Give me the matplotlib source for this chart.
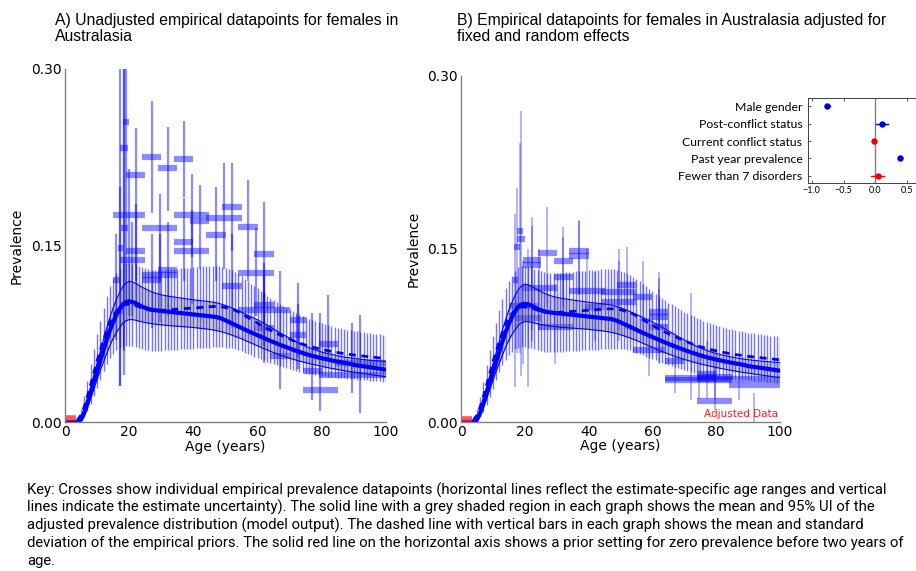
import matplotlib
matplotlib.use("Agg")
import matplotlib.pyplot as plt
from matplotlib import font_manager as fm


def font_file(name):
    try:
        return fm.findfont(fm.FontProperties(family=name), fallback_to_default=False)
    except Exception:
        return ""


KEY_FONT = "Liberation Sans Narrow" if "Narrow" in font_file("Liberation Sans Narrow") else "Roboto"

# ---------------- data ----------------
AGES = list(range(101))

MODEL_MEAN = [
    0, 0, 0, 0, 0, 0.002, 0.008, 0.016, 0.025, 0.034,
    0.043, 0.052, 0.061, 0.070, 0.078, 0.085, 0.091, 0.096, 0.100, 0.102,
    0.1025, 0.102, 0.101, 0.0995, 0.098, 0.097, 0.096, 0.0955, 0.095, 0.0947,
    0.0944, 0.0941, 0.0938, 0.0935, 0.0932, 0.0929, 0.0926, 0.0923, 0.0920, 0.0917,
    0.0914, 0.0911, 0.0908, 0.0905, 0.0902, 0.0899, 0.0896, 0.0893, 0.0886, 0.0876,
    0.0864, 0.0851, 0.0838, 0.0825, 0.0812, 0.0799, 0.0786, 0.0773, 0.0761, 0.0749,
    0.0737, 0.0725, 0.0713, 0.0701, 0.0689, 0.0678, 0.0667, 0.0656, 0.0645, 0.0635,
    0.0625, 0.0615, 0.0605, 0.0596, 0.0587, 0.0578, 0.0570, 0.0562, 0.0555, 0.0548,
    0.0542, 0.0536, 0.0530, 0.0524, 0.0518, 0.0513, 0.0508, 0.0503, 0.0498, 0.0493,
    0.0485, 0.0481, 0.0477, 0.0473, 0.0469, 0.0465, 0.0461, 0.0457, 0.0453, 0.0449, 0.0445]

MODEL_UPPER = [
    0, 0, 0, 0, 0, 0.004, 0.011, 0.020, 0.030, 0.040,
    0.050, 0.060, 0.070, 0.080, 0.089, 0.097, 0.104, 0.110, 0.115, 0.118,
    0.1195, 0.119, 0.1178, 0.1162, 0.1146, 0.1132, 0.1118, 0.1106, 0.1096, 0.1088,
    0.1081, 0.1075, 0.1070, 0.1066, 0.1062, 0.1058, 0.1054, 0.1050, 0.1046, 0.1042,
    0.1038, 0.1035, 0.1032, 0.1029, 0.1026, 0.1023, 0.1019, 0.1014, 0.1007, 0.0999,
    0.0990, 0.0980, 0.0969, 0.0957, 0.0945, 0.0932, 0.0919, 0.0906, 0.0893, 0.0880,
    0.0868, 0.0853, 0.0838, 0.0822, 0.0806, 0.0790, 0.0774, 0.0758, 0.0742, 0.0727,
    0.0712, 0.0697, 0.0682, 0.0668, 0.0655, 0.0643, 0.0632, 0.0621, 0.0611, 0.0602,
    0.0594, 0.0587, 0.0580, 0.0574, 0.0568, 0.0562, 0.0557, 0.0552, 0.0548, 0.0544,
    0.0540, 0.0537, 0.0534, 0.0531, 0.0528, 0.0525, 0.0523, 0.0521, 0.0519, 0.0517, 0.0515]

MODEL_LOWER = [
    0, 0, 0, 0, 0, 0.001, 0.005, 0.012, 0.020, 0.028,
    0.036, 0.044, 0.051, 0.058, 0.065, 0.071, 0.076, 0.080, 0.084, 0.086,
    0.087, 0.087, 0.0865, 0.0858, 0.0851, 0.0845, 0.0840, 0.0836, 0.0832, 0.0829,
    0.0826, 0.0823, 0.0820, 0.0818, 0.0816, 0.0814, 0.0812, 0.0810, 0.0808, 0.0806,
    0.0803, 0.0800, 0.0797, 0.0794, 0.0791, 0.0787, 0.0783, 0.0778, 0.0772, 0.0765,
    0.0757, 0.0748, 0.0738, 0.0728, 0.0718, 0.0707, 0.0695, 0.0683, 0.0671, 0.0659,
    0.0647, 0.0635, 0.0623, 0.0612, 0.0601, 0.0590, 0.0580, 0.0570, 0.0560, 0.0551,
    0.0542, 0.0534, 0.0526, 0.0518, 0.0511, 0.0504, 0.0497, 0.0491, 0.0485, 0.0479,
    0.0473, 0.0467, 0.0461, 0.0456, 0.0451, 0.0446, 0.0441, 0.0436, 0.0432, 0.0428,
    0.0424, 0.0420, 0.0416, 0.0412, 0.0408, 0.0404, 0.0400, 0.0396, 0.0392, 0.0388, 0.0384]

PRIOR_MEAN = [
    0, 0, 0, 0, 0.002, 0.006, 0.013, 0.022, 0.032, 0.042,
    0.052, 0.061, 0.070, 0.078, 0.085, 0.090, 0.094, 0.097, 0.099, 0.100,
    0.100, 0.0995, 0.099, 0.098, 0.097, 0.096, 0.0955, 0.095, 0.0948, 0.0948,
    0.0949, 0.0951, 0.0953, 0.0955, 0.0957, 0.0959, 0.0961, 0.0963, 0.0965, 0.0967,
    0.0969, 0.0971, 0.0973, 0.0975, 0.0977, 0.0979, 0.0981, 0.0982, 0.0981, 0.0978,
    0.0973, 0.0966, 0.0958, 0.0949, 0.0936, 0.0920, 0.0904, 0.0888, 0.0872, 0.0856,
    0.0840, 0.0824, 0.0809, 0.0794, 0.0780, 0.0766, 0.0753, 0.0740, 0.0728, 0.0716,
    0.0705, 0.0693, 0.0682, 0.0672, 0.0662, 0.0653, 0.0645, 0.0637, 0.0630, 0.0623,
    0.0617, 0.0611, 0.0605, 0.0600, 0.0595, 0.0590, 0.0585, 0.0581, 0.0577, 0.0573,
    0.0569, 0.0566, 0.0563, 0.0560, 0.0557, 0.0554, 0.0551, 0.0548, 0.0545, 0.0542, 0.0540]

PRIOR_SD = [
    0, 0, 0, 0, 0.002, 0.005, 0.009, 0.013, 0.017, 0.020,
    0.023, 0.025, 0.027, 0.029, 0.031, 0.032, 0.033, 0.034, 0.035, 0.035,
    0.0352, 0.0352, 0.0351, 0.0350, 0.0349, 0.0348, 0.0347, 0.0346, 0.0345, 0.0344,
    0.0343, 0.0343, 0.0343, 0.0343, 0.0343, 0.0343, 0.0344, 0.0344, 0.0345, 0.0345,
    0.0346, 0.0346, 0.0347, 0.0347, 0.0347, 0.0347, 0.0347, 0.0346, 0.0345, 0.0343,
    0.0340, 0.0337, 0.0333, 0.0329, 0.0325, 0.0320, 0.0315, 0.0310, 0.0305, 0.0300,
    0.0295, 0.0290, 0.0285, 0.0280, 0.0275, 0.0270, 0.0266, 0.0262, 0.0258, 0.0255,
    0.0252, 0.0249, 0.0246, 0.0243, 0.0240, 0.0237, 0.0234, 0.0231, 0.0228, 0.0225,
    0.0223, 0.0221, 0.0219, 0.0217, 0.0215, 0.0213, 0.0211, 0.0210, 0.0209, 0.0208,
    0.0207, 0.0206, 0.0205, 0.0204, 0.0203, 0.0202, 0.0201, 0.0200, 0.0200, 0.0200, 0.0200]

# zero-prevalence prior age range
ZERO_PRIOR_AGES = [0, 3.5]

# Panel A: unadjusted datapoints
A_AGE_START = [17, 18, 19, 24, 29, 34, 15, 24, 34, 39, 44, 49, 34, 34, 19, 44, 54, 59, 17, 17.5,
               16.5, 29, 24, 24, 54, 49, 59, 54, 70, 70, 79, 64, 74, 79, 74, 15, 16, 84, 59]
A_AGE_END = [19.5, 20, 25, 30, 35, 40, 25, 35, 45, 45, 55, 55, 40, 45, 25, 50, 60, 65, 25, 19.5,
             18, 35, 35, 30, 65, 55, 65, 70, 75, 75, 85, 70, 80, 100, 85, 17, 18, 100, 65]
A_VALUE = [0.233, 0.255, 0.210, 0.2255, 0.2155, 0.2235, 0.176, 0.165, 0.1755, 0.171, 0.173, 0.183,
           0.153, 0.145, 0.145, 0.159, 0.166, 0.143, 0.138, 0.165, 0.148, 0.1296, 0.1247, 0.121,
           0.127, 0.1153, 0.0997, 0.095, 0.087, 0.074, 0.066, 0.0557, 0.0437, 0.040, 0.0273,
           0.121, 0.094, 0.050, 0.080]
A_LOWER = [0.06, 0.10, 0.12, 0.178, 0.179, 0.1915, 0.09, 0.12, 0.14, 0.13, 0.13, 0.145, 0.12, 0.10,
           0.10, 0.12, 0.12, 0.10, 0.09, 0.04, 0.031, 0.09, 0.085, 0.08, 0.09, 0.08, 0.065, 0.065,
           0.055, 0.045, 0.053, 0.028, 0.019, 0.025, 0.009, 0.07, 0.031, 0.0075, 0.05]
A_UPPER = [0.33, 0.33, 0.250, 0.2725, 0.251, 0.2555, 0.215, 0.1935, 0.211, 0.201, 0.2205, 0.2205,
           0.19, 0.18, 0.185, 0.20, 0.206, 0.187, 0.17, 0.30, 0.33, 0.17, 0.16, 0.16, 0.165, 0.16,
           0.135, 0.125, 0.118, 0.10, 0.108, 0.128, 0.093, 0.084, 0.093, 0.16, 0.20, 0.091, 0.11]

# Panel B: adjusted datapoints
B_AGE_START = [16.5, 17.5, 17.5, 19.3, 19.3, 24, 29, 34, 34, 29, 16.3, 19, 34, 49, 44, 54, 44, 39,
               59, 59, 17, 24, 59, 15, 54, 64, 64, 74, 84, 74, 74, 74, 64]
B_AGE_END = [18.5, 19.5, 20, 25, 25, 30, 35, 40, 40, 35, 17.8, 30, 45, 55, 55, 60, 55, 45,
             65, 65, 25, 35, 65, 24, 64, 70, 85, 85, 100, 100, 85, 80, 80]
B_VALUE = [0.1515, 0.1656, 0.1587, 0.1405, 0.1365, 0.1463, 0.140, 0.144, 0.148, 0.1255, 0.123,
           0.116, 0.1137, 0.119, 0.113, 0.108, 0.104, 0.100, 0.0958, 0.0914, 0.090, 0.0828,
           0.0828, 0.1007, 0.0626, 0.0525, 0.0366, 0.0386, 0.0323, 0.037, 0.0178, 0.0416, 0.038]
B_LOWER = [0.06, 0.06, 0.04, 0.08, 0.07, 0.10, 0.10, 0.11, 0.11, 0.09, 0.03, 0.08, 0.08, 0.08,
           0.08, 0.07, 0.07, 0.07, 0.06, 0.06, 0.03, 0.05, 0.05, 0.05, 0.04, 0.025, 0.02, 0.02,
           -0.005, 0.019, 0.0107, 0.02, 0.019]
B_UPPER = [0.2026, 0.2415, 0.270, 0.1775, 0.17, 0.186, 0.169, 0.174, 0.175, 0.16, 0.18, 0.15,
           0.15, 0.152, 0.15, 0.14, 0.14, 0.13, 0.13, 0.125, 0.15, 0.12, 0.115, 0.14, 0.09, 0.071,
           0.06, 0.06, 0.025, 0.047, 0.048, 0.07, 0.112]

# inset: fixed-effect covariates
COV_NAMES = ["Male gender", "Post-conflict status", "Current conflict status",
             "Past year prevalence", "Fewer than 7 disorders"]
COV_EST = [-0.76, 0.11, -0.02, 0.39, 0.04]
COV_LO = [-0.80, 0.01, -0.04, 0.36, -0.07]
COV_HI = [-0.72, 0.20, 0.00, 0.42, 0.14]
COV_COLORS = ["#0000cc", "#0000cc", "#ee0000", "#0000cc", "#ee0000"]

Y_TICKS = [0.0, 0.15, 0.30]
Y_TICKLABELS = ["0.00", "0.15", "0.30"]
X_TICKS = [0, 20, 40, 60, 80, 100]

TITLE_A = "A) Unadjusted empirical datapoints for females in\nAustralasia"
TITLE_B = "B) Empirical datapoints for females in Australasia adjusted for\nfixed and random effects"
KEY_LINES = [
    "Key: Crosses show individual empirical prevalence datapoints (horizontal lines reflect the estimate-specific age ranges and vertical",
    "lines indicate the estimate uncertainty). The solid line with a grey shaded region in each graph shows the mean and 95% UI of the",
    "adjusted prevalence distribution (model output). The dashed line with vertical bars in each graph shows the mean and standard",
    "deviation of the empirical priors. The solid red line on the horizontal axis shows a prior setting for zero prevalence before two years of",
    "age.",
]

# ---------------- drawing ----------------
W, H = 916, 571
fig = plt.figure(figsize=(W / 100, H / 100), dpi=100)

BLUE = "#0000ff"
TICKFONT = "DejaVu Sans"


def px_rect(x0, y_top, x1, y_bot):
    return [x0 / W, 1 - y_bot / H, (x1 - x0) / W, (y_bot - y_top) / H]


def draw_panel(ax, starts, ends, vals, los, his, adjusted=False):
    mids = [(s + e) / 2 for s, e in zip(starts, ends)]
    ax.hlines(vals, starts, ends, colors=BLUE, linewidth=4.5, alpha=0.45, zorder=2)
    ax.vlines(mids, los, his, colors=BLUE, linewidth=1.6 if not adjusted else 1.2,
              alpha=0.45 if not adjusted else 0.35, zorder=2)
    ax.fill_between(AGES, MODEL_LOWER, MODEL_UPPER, color="0.55", alpha=0.45, linewidth=0, zorder=3)
    ax.plot(AGES, MODEL_UPPER, color=BLUE, lw=0.8, zorder=4)
    ax.plot(AGES, MODEL_LOWER, color=BLUE, lw=0.8, zorder=4)
    lo = [m - s for m, s in zip(PRIOR_MEAN, PRIOR_SD)]
    hi = [m + s for m, s in zip(PRIOR_MEAN, PRIOR_SD)]
    ax.vlines(AGES, lo, hi, colors=BLUE, linewidth=1.0, alpha=0.55, zorder=4)
    ax.plot(AGES, PRIOR_MEAN, color=BLUE, lw=2.0, ls=(0, (2.5, 2.0)), zorder=5)
    ax.plot(AGES, MODEL_MEAN, color=BLUE, lw=3.0, zorder=6)
    ax.plot(ZERO_PRIOR_AGES, [0.003, 0.003], color="#ff2020", lw=4, alpha=0.75, zorder=7,
            solid_capstyle="butt", clip_on=False)

    ax.set_xlim(0, 100)
    ax.set_ylim(0, 0.30)
    ax.set_yticks(Y_TICKS)
    ax.set_yticklabels(Y_TICKLABELS)
    ax.set_xticks(X_TICKS)
    for sp in ("top", "right"):
        ax.spines[sp].set_visible(False)
    for sp in ("left", "bottom"):
        ax.spines[sp].set_color("#808080")
        ax.spines[sp].set_linewidth(1.0)
        ax.spines[sp].set_zorder(8)
    ax.tick_params(length=0, pad=2.5, labelsize=10, labelcolor="black")
    for lab in ax.get_xticklabels() + ax.get_yticklabels():
        lab.set_fontfamily(TICKFONT)
    ax.set_xlabel("Age (years)", fontsize=10, family=TICKFONT)
    ax.set_ylabel("Prevalence", fontsize=10, family=TICKFONT)
    ax.xaxis.set_label_coords(0.5, -0.05)
    ax.yaxis.set_label_coords(-0.128, 0.5)


axA = fig.add_axes(px_rect(65, 69, 386, 422))
draw_panel(axA, A_AGE_START, A_AGE_END, A_VALUE, A_LOWER, A_UPPER)

axB = fig.add_axes(px_rect(461, 76, 780, 422))
draw_panel(axB, B_AGE_START, B_AGE_END, B_VALUE, B_LOWER, B_UPPER, adjusted=True)
axB.text(99.5, 0.003, "Adjusted Data", color="#ff2020", fontsize=7.5, family=TICKFONT,
         ha="right", va="bottom", zorder=9)

# titles
fig.text(55 / W, 1 - 13 / H, TITLE_A, ha="left", va="top", fontsize=11.3,
         family="Liberation Sans", linespacing=1.12)
fig.text(457 / W, 1 - 13 / H, TITLE_B, ha="left", va="top", fontsize=11.3,
         family="Liberation Sans", linespacing=1.12)

# inset
axI = fig.add_axes(px_rect(808, 98, 921, 183))
ypos = list(range(len(COV_NAMES)))
for i, (est, lo, hi, c) in enumerate(zip(COV_EST, COV_LO, COV_HI, COV_COLORS)):
    axI.plot([lo, hi], [i, i], color=c, lw=1.0, zorder=3)
    axI.plot([est], [i], "o", color=c, markersize=3.6, zorder=4)
axI.axvline(0, color="#808080", lw=1.0, zorder=2)
axI.set_xlim(-1.06, 0.72)
axI.set_ylim(4.42, -0.49)
axI.set_yticks(ypos)
axI.set_yticklabels(COV_NAMES, family="Lato", fontsize=8.8)
axI.set_xticks([-1.0, -0.5, 0.0, 0.5])
axI.set_xticklabels(["\u22121.0", "\u22120.5", "0.0", "0.5"], family="Lato", fontsize=6.5)
axI.tick_params(direction="in", length=2.5, width=0.6, top=True, right=True, pad=2,
                colors="#404040", labelcolor="black")
axI.tick_params(axis="y", pad=4)
for sp in axI.spines.values():
    sp.set_color("#404040")
    sp.set_linewidth(0.7)

# key text, sized so that the first line spans the same width as in the reference
key_texts = []
for k, line in enumerate(KEY_LINES):
    key_texts.append(fig.text(27 / W, 1 - (490 + k * 17.8) / H, line, ha="left", va="center",
                              fontsize=11.3, family=KEY_FONT))
fig.canvas.draw()
renderer = fig.canvas.get_renderer()
w0 = key_texts[0].get_window_extent(renderer).width
new_size = 11.3 * 866.0 / w0
for t in key_texts:
    t.set_fontsize(new_size)

fig.savefig("out.png", dpi=100)
